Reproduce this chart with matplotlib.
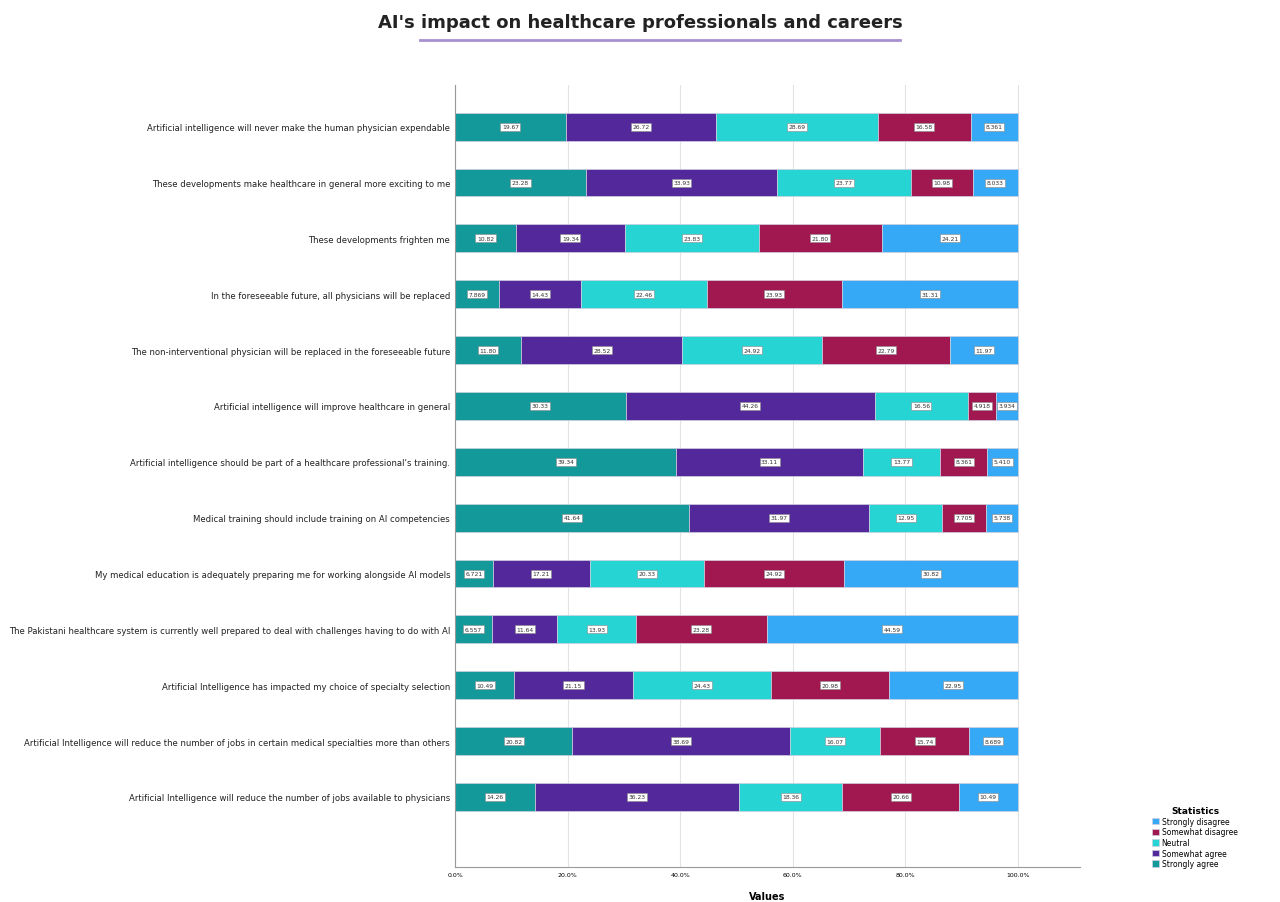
import matplotlib
matplotlib.use("Agg")
import matplotlib.pyplot as plt
import numpy as np

categories = [
    "Artificial intelligence will never make the human physician expendable",
    "These developments make healthcare in general more exciting to me",
    "These developments frighten me",
    "In the foreseeable future, all physicians will be replaced",
    "The non-interventional physician will be replaced in the foreseeable future",
    "Artificial intelligence will improve healthcare in general",
    "Artificial intelligence should be part of a healthcare professional's training.",
    "Medical training should include training on AI competencies",
    "My medical education is adequately preparing me for working alongside AI models",
    "The Pakistani healthcare system is currently well prepared to deal with challenges having to do with AI",
    "Artificial Intelligence has impacted my choice of specialty selection",
    "Artificial Intelligence will reduce the number of jobs in certain medical specialties more than others",
    "Artificial Intelligence will reduce the number of jobs available to physicians",
]
strongly_agree = [19.67, 23.28, 10.82, 7.869, 11.80, 30.33, 39.34, 41.64, 6.721, 6.557, 10.49, 20.82, 14.26]
somewhat_agree = [26.72, 33.93, 19.34, 14.43, 28.52, 44.26, 33.11, 31.97, 17.21, 11.64, 21.15, 38.69, 36.23]
neutral = [28.69, 23.77, 23.83, 22.46, 24.92, 16.56, 13.77, 12.95, 20.33, 13.93, 24.43, 16.07, 18.36]
somewhat_disagree = [16.58, 10.98, 21.80, 23.93, 22.79, 4.918, 8.361, 7.705, 24.92, 23.28, 20.98, 15.74, 20.66]
strongly_disagree = [8.361, 8.033, 24.21, 31.31, 11.97, 3.934, 5.410, 5.738, 30.82, 44.59, 22.95, 8.689, 10.49]

series = [("Strongly agree", strongly_agree, "#13999a"),
          ("Somewhat agree", somewhat_agree, "#52289b"),
          ("Neutral", neutral, "#26d4d4"),
          ("Somewhat disagree", somewhat_disagree, "#a1174f"),
          ("Strongly disagree", strongly_disagree, "#36a9f6")]

fig = plt.figure(figsize=(12.8, 9.03), dpi=100)
ax = fig.add_axes([0.3555, 0.039, 0.488, 0.866])
y = np.arange(len(categories))
left = np.zeros(len(categories))
handles = []
for name, vals, col in series:
    vals = np.array(vals)
    b = ax.barh(y, vals, left=left, height=0.5, color=col, edgecolor="#d0d0e0", linewidth=0.5, label=name, zorder=2)
    handles.append(b)
    for yi, l, v in zip(y, left, vals):
        ax.text(l + v / 2, yi, f"{v:.2f}" if v >= 10 else f"{v:.3f}", ha="center", va="center",
                fontsize=4.3, color="#333",
                bbox=dict(boxstyle="square,pad=0.25", fc="white", ec="#888", lw=0.4), zorder=3)
    left += vals

ax.set_xlim(0, 111)
ax.set_ylim(len(categories) - 1 + 1.25, -0.75)
ax.set_yticks(y)
ax.set_yticklabels(categories, fontsize=7, color="#222")
ax.set_xticks([0, 20, 40, 60, 80, 100])
ax.set_xticklabels(["0.0%", "20.0%", "40.0%", "60.0%", "80.0%", "100.0%"], fontsize=4.5)
ax.tick_params(length=0)
ax.grid(axis="x", color="#e3e3e3", lw=0.8, zorder=0)
for s in ["top", "right"]:
    ax.spines[s].set_visible(False)
ax.spines["left"].set_color("#999")
ax.spines["bottom"].set_color("#999")
ax.set_xlabel("Values", fontsize=7, fontweight="bold", labelpad=10)

# shrink y labels so the longest fits in the left margin
fig.canvas.draw()
r = fig.canvas.get_renderer()
maxw = max(t.get_window_extent(r).width for t in ax.get_yticklabels())
avail = 0.3555 * 1280 - 12
if maxw > avail:
    fs = 7 * avail / maxw
    for t in ax.get_yticklabels():
        t.set_fontsize(fs)

fig.text(0.5, 0.985, "AI's impact on healthcare professionals and careers", ha="center", va="top",
         fontsize=13, fontweight="bold", color="#222")
fig.add_artist(plt.Line2D([0.328, 0.703], [0.955, 0.955], color="#a88fd0", lw=2))

leg = fig.legend(handles[::-1], [h.get_label() for h in handles[::-1]], title="Statistics",
                 loc="lower left", bbox_to_anchor=(0.895, 0.03), fontsize=5.5, title_fontsize=6.5,
                 frameon=False, handlelength=0.9, handleheight=0.9, labelspacing=0.2, handletextpad=0.3)
leg.get_title().set_fontweight("bold")
fig.savefig("out.png", dpi=100)
